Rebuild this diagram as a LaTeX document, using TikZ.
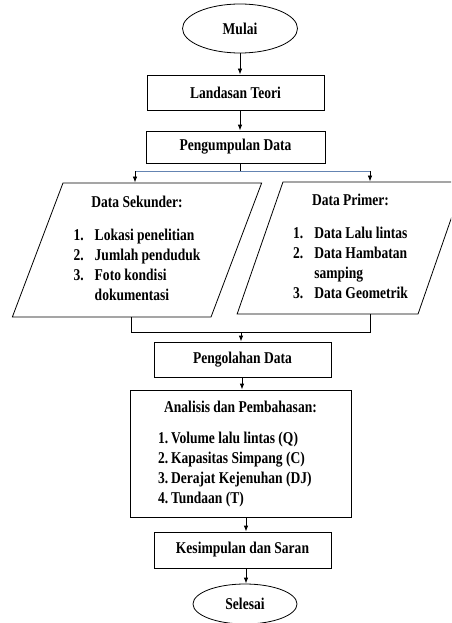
\documentclass[tikz,border=0pt]{standalone}
\usepackage{fontspec}
\setmainfont{Liberation Serif}[FakeStretch=0.82]
\usepackage{xcolor}
\usetikzlibrary{shapes,arrows.meta}

\definecolor{garisbiru}{RGB}{100,132,178}

\tikzset{
    terminal/.style={ellipse, draw, line width=0.8pt, inner sep=0pt},
    proses/.style={rectangle, draw, line width=0.8pt, inner sep=0pt},
    datain/.style={trapezium, trapezium stretches=true, draw, line width=0.8pt, inner sep=0pt},
    arus/.style={-{Latex[length=6pt,width=4.5pt]}, line width=0.8pt},
    garis/.style={line width=0.8pt}
}

\begin{document}
\begin{tikzpicture}[x=1pt, y=-1pt, every node/.style={font=\fontsize{16.5}{20}\selectfont\bfseries}]
        \useasboundingbox (0,0) rectangle (451,623);
        \clip (0,0) rectangle (451,623);

        % sumbu panah
        \coordinate (poros) at (240,0);
        \coordinate (poros2) at (242,0);
        \coordinate (poros3) at (246,0);

        \node[terminal, minimum width=115pt, minimum height=49pt] (mulai) at (240,28.5) {Mulai};
        \node[proses, minimum width=177pt, minimum height=35pt] (landasan) at (235.5,92.5) {Landasan Teori};
        \node[proses, minimum width=179pt, minimum height=32pt] (pengumpulan) at (235.5,147) {Pengumpulan Data};

        \node[datain, trapezium left angle=69, trapezium right angle=111,
              minimum width=250pt, minimum height=134pt] (sekunder) at (137,250)
            {\begin{tabular}{@{}l@{\hspace{11pt}}l@{}}
                \multicolumn{2}{c}{Data Sekunder:}\\[13pt]
                1. & Lokasi penelitian\\
                2. & Jumlah penduduk\\
                3. & Foto kondisi\\
                   & dokumentasi
             \end{tabular}};
        \node[datain, trapezium left angle=71, trapezium right angle=109,
              minimum width=227pt, minimum height=132pt] (primer) at (350.5,248)
            {\begin{tabular}{@{}l@{\hspace{11pt}}l@{}}
                \multicolumn{2}{c}{Data Primer:}\\[13pt]
                1. & Data Lalu lintas\\
                2. & Data Hambatan\\
                   & samping\\
                3. & Data Geometrik
             \end{tabular}};

        \node[proses, minimum width=177pt, minimum height=35pt] (pengolahan) at (242.5,359.5) {Pengolahan Data};
        \node[proses, minimum width=221pt, minimum height=127pt] (analisis) at (240.5,453.5)
            {\begin{tabular}{@{}l@{}}
                \multicolumn{1}{c}{Analisis dan Pembahasan:}\\[11pt]
                1.\,Volume lalu lintas (Q)\\
                2.\,Kapasitas Simpang (C)\\
                3.\,Derajat Kejenuhan (DJ)\\
                4.\,Tundaan (T)
             \end{tabular}};
        \node[proses, minimum width=177pt, minimum height=36pt] (kesimpulan) at (242.5,550) {Kesimpulan dan Saran};
        \node[terminal, minimum width=104pt, minimum height=40pt] (selesai) at (245,604) {Selesai};

        % cabang dan gabung
        \coordinate (split) at (240,171);
        \coordinate (splitL) at (135,171);
        \coordinate (splitR) at (370,171);
        \coordinate (mergeL) at (131,332);
        \coordinate (mergeR) at (370,332);
        \coordinate (merge) at (241,332);

        \draw[arus] (mulai) -- (poros |- landasan.north);
        \draw[arus] (poros |- landasan.south) -- (poros |- pengumpulan.north);
        \draw[garis] (split |- pengumpulan.south) -- (split);
        \draw[garis, garisbiru] (splitL) -- (splitR);
        \draw[arus] (splitL) -- (splitL |- sekunder.north);
        \draw[arus] (splitR) -- (splitR |- primer.north);

        \draw[garis] (mergeL |- sekunder.south) -- (mergeL) -- (mergeR) -- (mergeR |- primer.south);
        \draw[arus] (merge) -- (merge |- pengolahan.north);
        \draw[arus] (poros2 |- pengolahan.south) -- (poros2 |- analisis.north);
        \draw[arus] (poros3 |- analisis.south) -- (poros3 |- kesimpulan.north);
        \draw[arus] (poros3 |- kesimpulan.south) -- (poros3 |- selesai.north);
\end{tikzpicture}
\end{document}
